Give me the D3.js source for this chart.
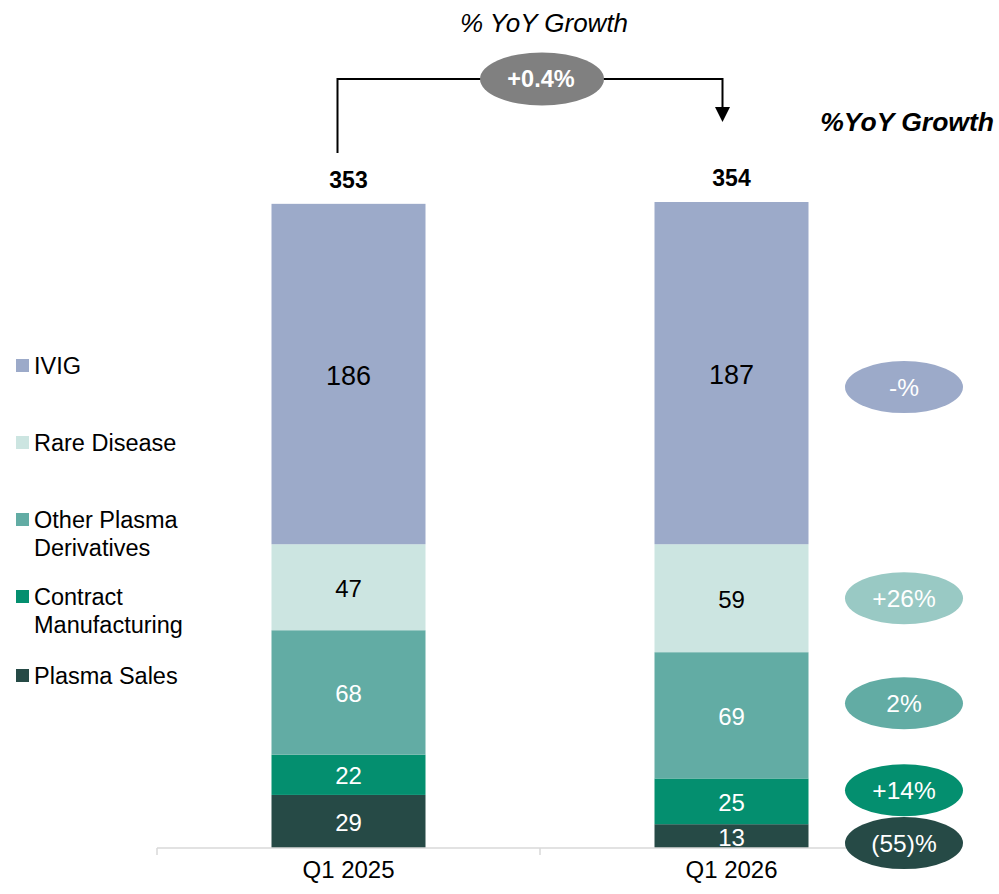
<!DOCTYPE html>
<html>
<head>
<meta charset="utf-8">
<script src="https://cdn.jsdelivr.net/npm/d3@7"></script>
<style>
  html, body { margin: 0; padding: 0; background: #fff; }
  svg { display: block; font-family: "Liberation Sans", Arial, sans-serif; }
</style>
</head>
<body>
<svg id="chart" width="999" height="894"></svg>
<script>
// Revenue by product line, stacked bottom to top
const periods = ["Q1 2025", "Q1 2026"];
const segments = ["Plasma Sales", "Contract Manufacturing", "Other Plasma Derivatives", "Rare Disease", "IVIG"];
const plasmaSales = [29, 13];
const contractManufacturing = [22, 25];
const otherPlasmaDerivatives = [68, 69];
const rareDisease = [47, 59];
const ivig = [186, 187];
const totals = [353, 354];
const totalGrowth = "+0.4%";
// year-over-year growth per segment (same order as segments)
const segmentGrowth = ["(55)%", "+14%", "2%", "+26%", "-%"];

const segmentColors = ["#264A46", "#048F6F", "#62ACA4", "#CCE5E1", "#9CAAC9"];
const growthFill = ["#264A46", "#048F6F", "#62ACA4", "#99C9C4", "#9CAAC9"];
const labelInk = ["#fff", "#fff", "#fff", "#000", "#000"];
// vertical nudges that keep the growth bubbles from overlapping
const growthNudge = [7, -11, -12, 0, 14];

const seriesValues = [plasmaSales, contractManufacturing, otherPlasmaDerivatives, rareDisease, ivig];

const svg = d3.select("#chart");

const x = d3.scaleBand().domain(periods).range([157, 923]).padding(0);
const y = d3.scaleLinear().domain([0, 400]).range([848, 116]);
const barW = 154;

const table = periods.map((p, i) => {
  const row = { period: p };
  segments.forEach((s, k) => row[s] = seriesValues[k][i]);
  return row;
});
const stacked = d3.stack().keys(segments)(table);

// bars
const layers = svg.append("g").selectAll("g")
  .data(stacked).join("g")
  .attr("fill", (d, k) => segmentColors[k]);

layers.selectAll("rect")
  .data(d => d.map(v => Object.assign(v, { key: d.key })))
  .join("rect")
  .attr("x", d => x(d.data.period) + x.bandwidth() / 2 - barW / 2)
  .attr("width", barW)
  .attr("y", d => y(d[1]))
  .attr("height", d => y(d[0]) - y(d[1]));

// segment values
stacked.forEach((layer, k) => {
  svg.append("g").selectAll("text")
    .data(layer).join("text")
    .attr("x", d => x(d.data.period) + x.bandwidth() / 2)
    .attr("y", d => (y(d[0]) + y(d[1])) / 2 + 1)
    .attr("dy", "0.36em")
    .attr("text-anchor", "middle")
    .attr("font-size", k === 4 ? 27 : 24)
    .attr("fill", labelInk[k])
    .text(d => d.data[layer.key]);
});

// totals above bars
svg.append("g").selectAll("text")
  .data(periods).join("text")
  .attr("x", p => x(p) + x.bandwidth() / 2)
  .attr("y", (p, i) => y(d3.sum(seriesValues, s => s[i])) - 16)
  .attr("text-anchor", "middle")
  .attr("font-size", 23)
  .attr("font-weight", "bold")
  .attr("fill", "#000")
  .text((p, i) => totals[i]);

// category axis
const axisG = svg.append("g").attr("transform", "translate(0,848)");
axisG.call(d3.axisBottom(x).tickSize(0).tickPadding(13));
axisG.select(".domain").remove();
axisG.selectAll("text")
  .attr("font-size", 24)
  .attr("font-family", "Liberation Sans, Arial, sans-serif")
  .attr("fill", "#000")
  .attr("dy", "0.71em");
axisG.append("line")
  .attr("x1", x.range()[0]).attr("x2", x.range()[1])
  .attr("stroke", "#D9D9D9").attr("stroke-width", 1.5);
const edges = periods.map(p => x(p)).concat([x.range()[1]]);
axisG.selectAll("line.edge")
  .data(edges).join("line").attr("class", "edge")
  .attr("x1", d => d).attr("x2", d => d)
  .attr("y1", 0).attr("y2", 7)
  .attr("stroke", "#D9D9D9").attr("stroke-width", 1.5);

// legend
const legendRows = [
  { name: "IVIG", lines: ["IVIG"], k: 4, base: 374 },
  { name: "Rare Disease", lines: ["Rare Disease"], k: 3, base: 451 },
  { name: "Other Plasma Derivatives", lines: ["Other Plasma", "Derivatives"], k: 2, base: 528 },
  { name: "Contract Manufacturing", lines: ["Contract", "Manufacturing"], k: 1, base: 605 },
  { name: "Plasma Sales", lines: ["Plasma Sales"], k: 0, base: 684 }
];
const legend = svg.append("g").selectAll("g").data(legendRows).join("g");
legend.append("rect")
  .attr("x", 16).attr("y", d => d.base - 15)
  .attr("width", 13).attr("height", 13)
  .attr("fill", d => segmentColors[d.k]);
legend.append("text")
  .attr("x", 34).attr("y", d => d.base)
  .attr("font-size", 23.5).attr("fill", "#000")
  .selectAll("tspan").data(d => d.lines).join("tspan")
  .attr("x", 34).attr("dy", (d, i) => i === 0 ? 0 : 28)
  .text(d => d);

// growth bubbles beside the latest bar
const last = periods.length - 1;
const bubbleX = 904;
const bubbles = svg.append("g").selectAll("g")
  .data(stacked).join("g")
  .attr("transform", (layer, k) => {
    const seg = layer[last];
    return `translate(${bubbleX},${(y(seg[0]) + y(seg[1])) / 2 + growthNudge[k]})`;
  });
bubbles.append("ellipse")
  .attr("rx", 59).attr("ry", 26)
  .attr("fill", (d, k) => growthFill[k]);
bubbles.append("text")
  .attr("text-anchor", "middle").attr("dy", "0.36em")
  .attr("font-size", 24.5).attr("fill", "#fff")
  .text((d, k) => segmentGrowth[k]);

// headers
svg.append("text")
  .attr("x", 544).attr("y", 32)
  .attr("text-anchor", "middle")
  .attr("font-size", 26).attr("font-style", "italic")
  .attr("fill", "#000")
  .text("% YoY Growth");
svg.append("text")
  .attr("x", 994).attr("y", 131)
  .attr("text-anchor", "end")
  .attr("font-size", 26.5).attr("font-style", "italic").attr("font-weight", "bold")
  .attr("fill", "#000")
  .text("%YoY Growth");

// total growth connector with arrow
const cx0 = x(periods[0]) + x.bandwidth() / 2 - 11;
const cx1 = x(periods[1]) + x.bandwidth() / 2 - 9;
const topY = 79;
svg.append("path")
  .attr("d", `M${cx0},153 V${topY} H${cx1} V108`)
  .attr("fill", "none").attr("stroke", "#000").attr("stroke-width", 2);
svg.append("path")
  .attr("d", `M${cx1 - 7.5},107 L${cx1 + 7.5},107 L${cx1},122 Z`)
  .attr("fill", "#000");
svg.append("ellipse")
  .attr("cx", 542).attr("cy", topY)
  .attr("rx", 62).attr("ry", 26.5)
  .attr("fill", "#808080");
svg.append("text")
  .attr("x", 541).attr("y", topY).attr("dy", "0.36em")
  .attr("text-anchor", "middle")
  .attr("font-size", 23.5).attr("font-weight", "bold")
  .attr("fill", "#fff")
  .text(totalGrowth);
</script>
</body>
</html>
